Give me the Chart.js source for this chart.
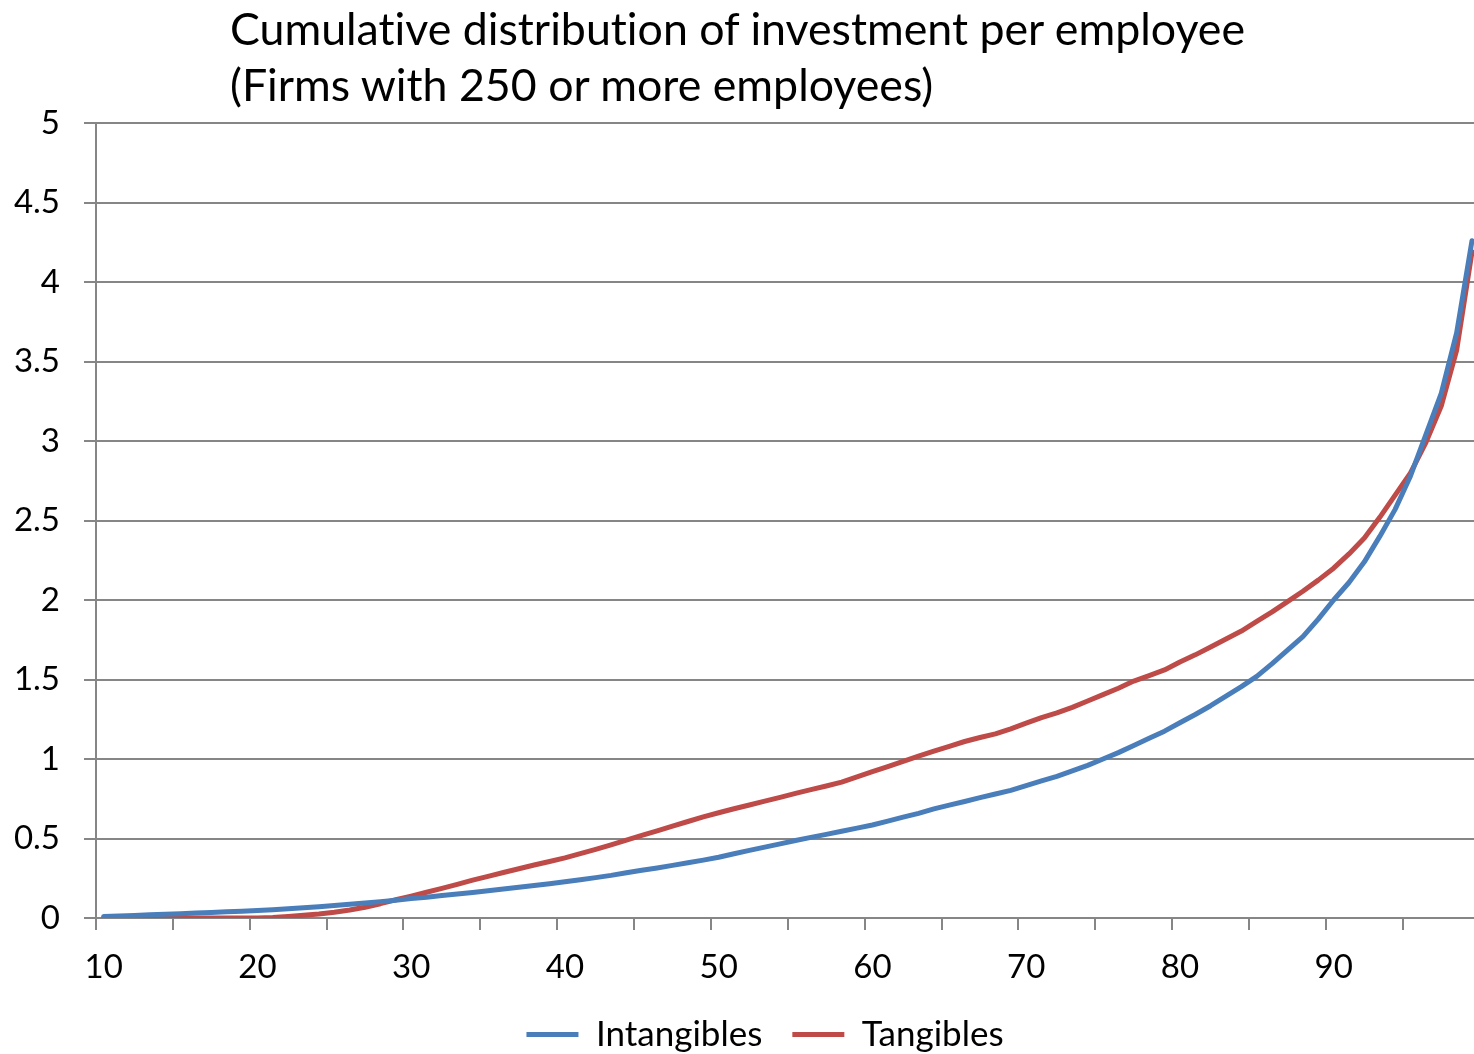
<!doctype html>
<html lang="en">
<head>
<meta charset="utf-8">
<title>Cumulative distribution of investment per employee</title>
<script src="https://cdn.jsdelivr.net/npm/chart.js@4"></script>
<style>
    html, body { margin: 0; padding: 0; background: #fff; overflow: hidden; }
    #rahmen { position: relative; width: 1474px; height: 1054px; overflow: hidden; background: #fff; }
    #titel {
        position: absolute; left: 230px; top: 0; z-index: 1;
        font-family: Lato, "Liberation Sans", sans-serif; font-size: 44.7px; line-height: 56px; color: #000;
        font-variant-ligatures: none; white-space: nowrap;
    }
    #grafik { position: absolute; left: 0; top: 0; }
</style>
</head>
<body>
<div id="rahmen">
    <div id="titel">Cumulative distribution of investment per employee<br>(Firms with 250 or more employees)</div>
    <canvas id="grafik" width="1490" height="1062"></canvas>
</div>
<script>
// Perzentile der Firmen (x-Achse)
var perzentile = [10, 11, 12, 13, 14, 15, 16, 17, 18, 19,
                  20, 21, 22, 23, 24, 25, 26, 27, 28, 29,
                  30, 31, 32, 33, 34, 35, 36, 37, 38, 39,
                  40, 41, 42, 43, 44, 45, 46, 47, 48, 49,
                  50, 51, 52, 53, 54, 55, 56, 57, 58, 59,
                  60, 61, 62, 63, 64, 65, 66, 67, 68, 69,
                  70, 71, 72, 73, 74, 75, 76, 77, 78, 79,
                  80, 81, 82, 83, 84, 85, 86, 87, 88, 89,
                  90, 91, 92, 93, 94, 95, 96, 97, 98, 99];

// Investition je Beschaeftigten, immaterielle Gueter
var immateriell = [0.010, 0.013, 0.016, 0.020, 0.023, 0.027, 0.031, 0.035, 0.039, 0.043,
                   0.047, 0.052, 0.058, 0.064, 0.071, 0.078, 0.086, 0.094, 0.103, 0.112,
                   0.122, 0.131, 0.141, 0.151, 0.161, 0.171, 0.182, 0.193, 0.204, 0.215,
                   0.228, 0.241, 0.254, 0.268, 0.285, 0.300, 0.315, 0.331, 0.347, 0.364,
                   0.382, 0.404, 0.425, 0.446, 0.466, 0.487, 0.507, 0.526, 0.546, 0.565,
                   0.585, 0.609, 0.634, 0.658, 0.686, 0.710, 0.733, 0.757, 0.780, 0.803,
                   0.833, 0.862, 0.891, 0.925, 0.960, 1.000, 1.040, 1.085, 1.130, 1.175,
                   1.228, 1.280, 1.335, 1.395, 1.455, 1.520, 1.600, 1.685, 1.770, 1.880,
                   2.000, 2.110, 2.240, 2.400, 2.570, 2.780, 3.040, 3.300, 3.680, 4.260];

// Investition je Beschaeftigten, materielle Gueter
var materiell = [0, 0, 0, 0, 0, 0, 0, 0, 0, 0,
                 0.000, 0.003, 0.010, 0.017, 0.025, 0.036, 0.050, 0.068, 0.090, 0.115,
                 0.138, 0.162, 0.186, 0.212, 0.238, 0.262, 0.286, 0.310, 0.333, 0.355,
                 0.378, 0.405, 0.432, 0.460, 0.490, 0.519, 0.548, 0.578, 0.607, 0.636,
                 0.662, 0.687, 0.711, 0.735, 0.759, 0.784, 0.807, 0.830, 0.855, 0.888,
                 0.920, 0.952, 0.985, 1.018, 1.050, 1.080, 1.110, 1.135, 1.158, 1.190,
                 1.225, 1.260, 1.290, 1.325, 1.365, 1.405, 1.445, 1.490, 1.525, 1.560,
                 1.610, 1.655, 1.705, 1.755, 1.805, 1.865, 1.925, 1.990, 2.055, 2.125,
                 2.200, 2.290, 2.390, 2.520, 2.660, 2.800, 2.990, 3.220, 3.570, 4.190];

var grau = '#868686';
var schrift = 'Lato, "Liberation Sans", sans-serif';

// Legende etwas nach rechts ruecken (unter die Mitte der Zeichenflaeche)
var legendeVerschieben = {
    id: 'legendeVerschieben',
    afterLayout: function (chart) {
        chart.legend.left += 20;
        chart.legend.right += 20;
    }
};

var ctx = document.getElementById('grafik').getContext('2d');
var grafik = new Chart(ctx, {
    type: 'line',
    data: {
        labels: perzentile,
        datasets: [{
            label: 'Intangibles',
            data: immateriell,
            borderColor: '#4A7EBB',
            backgroundColor: '#4A7EBB',
            borderWidth: 5,
            borderCapStyle: 'round',
            borderJoinStyle: 'round',
            pointRadius: 0,
            tension: 0
        }, {
            label: 'Tangibles',
            data: materiell,
            borderColor: '#BE4B48',
            backgroundColor: '#BE4B48',
            borderWidth: 5,
            borderCapStyle: 'round',
            borderJoinStyle: 'round',
            pointRadius: 0,
            tension: 0
        }]
    },
    plugins: [legendeVerschieben],
    options: {
        responsive: false,
        animation: false,
        layout: { padding: { left: 0, right: 0, top: 123, bottom: 0 } },
        plugins: {
            legend: {
                position: 'bottom',
                labels: {
                    usePointStyle: true,
                    pointStyle: 'line',
                    pointStyleWidth: 52,
                    padding: 30,
                    color: '#000',
                    font: { family: schrift, size: 35 }
                }
            },
            tooltip: { enabled: false }
        },
        scales: {
            x: {
                offset: true,
                grid: {
                    offset: true,
                    drawOnChartArea: false,
                    tickLength: 12,
                    lineWidth: 2,
                    // Striche nur alle 5 Perzentile
                    color: function (c) { return c.index % 5 === 0 ? grau : 'rgba(0,0,0,0)'; }
                },
                border: { color: grau, width: 2 },
                ticks: {
                    autoSkip: false,
                    maxRotation: 0,
                    padding: 18,
                    color: '#000',
                    font: { family: schrift, size: 33 },
                    callback: function (wert, i) {
                        return i % 10 === 0 ? this.getLabelForValue(wert) : '';
                    }
                },
                afterFit: function (skala) { skala.height = 69; }
            },
            y: {
                min: 0,
                max: 5,
                grid: { color: grau, lineWidth: 2, tickLength: 12 },
                border: { color: grau, width: 2 },
                ticks: {
                    stepSize: 0.5,
                    padding: 24,
                    color: '#000',
                    font: { family: schrift, size: 33 },
                    callback: function (wert) { return String(wert); }
                },
                afterFit: function (skala) { skala.width = 96; }
            }
        }
    }
});
</script>
</body>
</html>
